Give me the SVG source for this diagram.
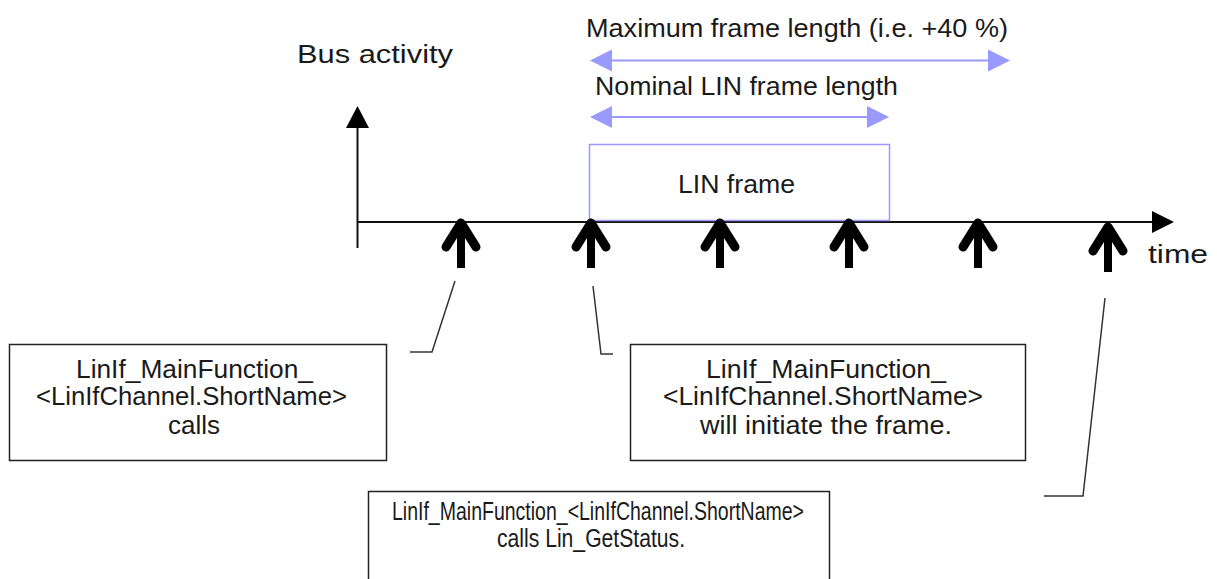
<svg xmlns="http://www.w3.org/2000/svg" xmlns:xlink="http://www.w3.org/1999/xlink" width="1217" height="579" viewBox="0 0 1217 579">
<style>
.t{font-family:"Liberation Sans",Arial,sans-serif;fill:#1a1a1a;font-size:26px}
.box{fill:#fff;stroke:#222;stroke-width:1.5}
.lead{fill:none;stroke:#333;stroke-width:1.5}
.ax{stroke:#111;stroke-width:2;fill:none}
.blue{stroke:#9999ff;stroke-width:2;fill:none}
.bh{fill:#9999ff}
</style>
<defs>
<g id="tk">
<path d="M-15,30 L0,6 L15,30" fill="none" stroke="#000" stroke-width="9" stroke-linejoin="round" stroke-linecap="round"/>
<path d="M0,8 L0,51" stroke="#000" stroke-width="8"/>
</g>
</defs>
<rect width="1217" height="579" fill="#fff"/>
<g id="axes">
<line class="ax" x1="357.5" y1="126" x2="357.5" y2="248"/>
<polygon points="357.5,106 346,128 369,128" fill="#000"/>
<line class="ax" x1="357" y1="222" x2="1154" y2="222"/>
<polygon points="1174,222 1152,211 1152,233" fill="#000"/>
<text class="t" x="297" y="63" textLength="156" lengthAdjust="spacingAndGlyphs">Bus activity</text>
<text class="t" x="1148" y="263" textLength="60" lengthAdjust="spacingAndGlyphs">time</text>
</g>
<g id="lin-frame">
<rect x="589.5" y="144.5" width="300" height="76" fill="#fff" stroke="#9999ff" stroke-width="1.5"/>
<text class="t" x="678" y="193" textLength="117" lengthAdjust="spacingAndGlyphs">LIN frame</text>
</g>
<g id="max-length">
<line class="blue" x1="608" y1="60.5" x2="992" y2="60.5"/>
<polygon class="bh" points="590,60.5 612,49.5 612,71.5"/>
<polygon class="bh" points="1010,60.5 988,49.5 988,71.5"/>
<text class="t" x="586" y="37" textLength="422" lengthAdjust="spacingAndGlyphs">Maximum frame length (i.e. +40 %)</text>
</g>
<g id="nominal-length">
<line class="blue" x1="608" y1="117" x2="871" y2="117"/>
<polygon class="bh" points="590,117 612,106 612,128"/>
<polygon class="bh" points="889,117 867,106 867,128"/>
<text class="t" x="595" y="95" textLength="303" lengthAdjust="spacingAndGlyphs">Nominal LIN frame length</text>
</g>
<g id="ticks">
<use xlink:href="#tk" href="#tk" x="461" y="217"/>
<use xlink:href="#tk" href="#tk" x="591" y="217"/>
<use xlink:href="#tk" href="#tk" x="720" y="217"/>
<use xlink:href="#tk" href="#tk" x="849" y="217"/>
<use xlink:href="#tk" href="#tk" x="978" y="217"/>
<use xlink:href="#tk" href="#tk" x="1108" y="221"/>
</g>
<g id="connectors">
<polyline class="lead" points="410,352 432,352 455,281"/>
<polyline class="lead" points="593,286 601,354 613,354"/>
<polyline class="lead" points="1105,298 1083,496 1044,496"/>
</g>
<g id="box-calls">
<rect class="box" x="9.5" y="344.5" width="377" height="116"/>
<text class="t" x="76" y="378" textLength="237" lengthAdjust="spacingAndGlyphs">LinIf_MainFunction_</text>
<text class="t" x="36" y="405" textLength="311" lengthAdjust="spacingAndGlyphs">&lt;LinIfChannel.ShortName&gt;</text>
<text class="t" x="168" y="434" textLength="52" lengthAdjust="spacingAndGlyphs">calls</text>
</g>
<g id="box-initiate">
<rect class="box" x="630.5" y="344.5" width="395" height="116"/>
<text class="t" x="706" y="378" textLength="240" lengthAdjust="spacingAndGlyphs">LinIf_MainFunction_</text>
<text class="t" x="663" y="405" textLength="320" lengthAdjust="spacingAndGlyphs">&lt;LinIfChannel.ShortName&gt;</text>
<text class="t" x="700" y="434" textLength="252" lengthAdjust="spacingAndGlyphs">will initiate the frame.</text>
</g>
<g id="box-getstatus">
<rect class="box" x="368.5" y="491.5" width="461" height="100"/>
<text class="t" x="392" y="520" textLength="412" lengthAdjust="spacingAndGlyphs">LinIf_MainFunction_&lt;LinIfChannel.ShortName&gt;</text>
<text class="t" x="497" y="547" textLength="188" lengthAdjust="spacingAndGlyphs">calls Lin_GetStatus.</text>
</g>
</svg>
